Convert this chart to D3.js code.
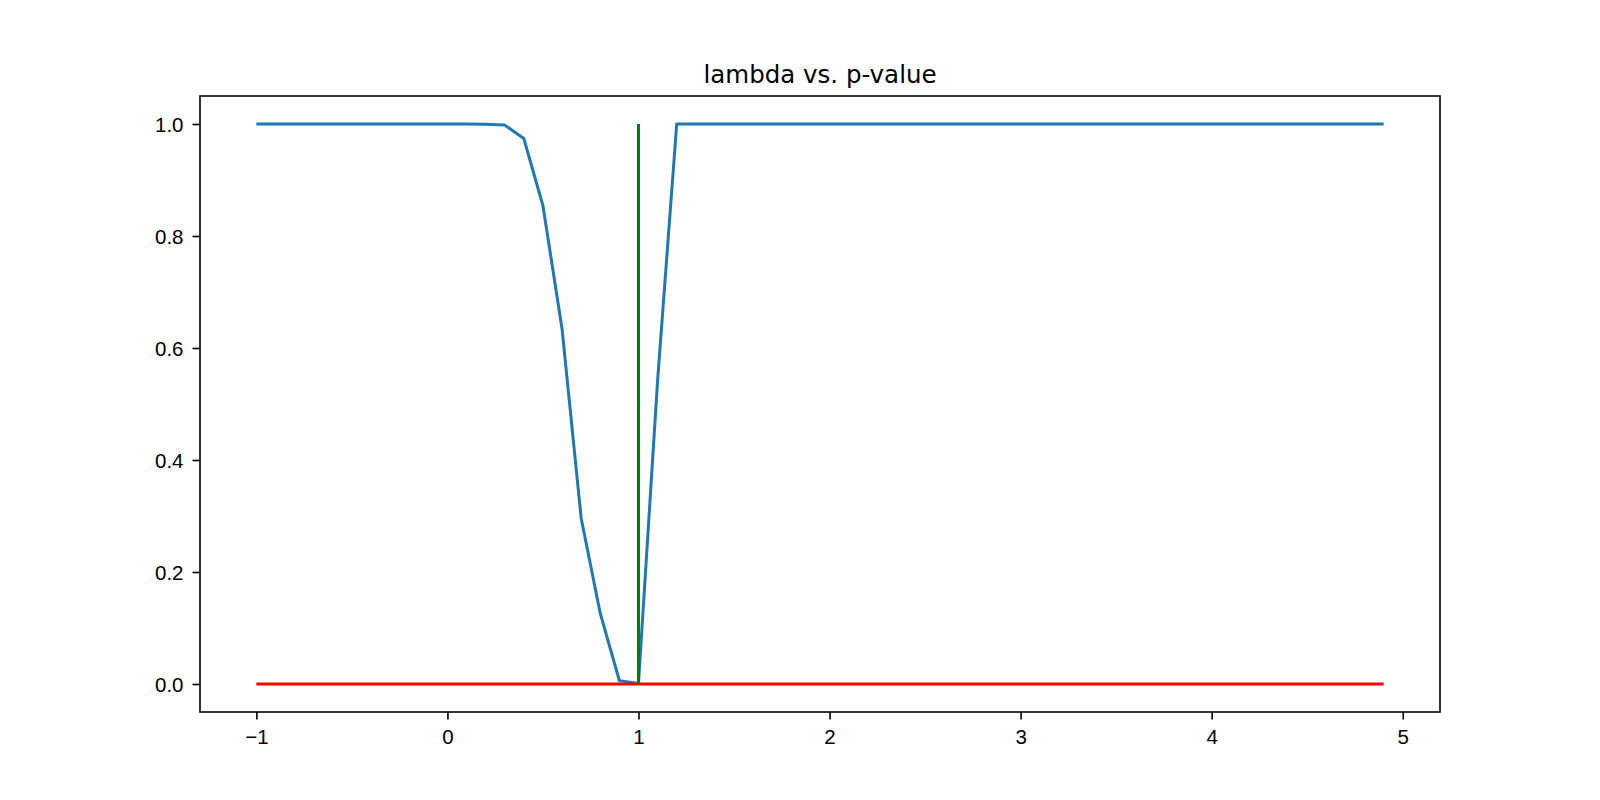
<!DOCTYPE html>
<html>
<head>
<meta charset="utf-8">
<script src="https://cdn.jsdelivr.net/npm/d3@7"></script>
<style>
  body { margin: 0; background: #fff; }
  svg { display: block; font-family: "DejaVu Sans", sans-serif; }
  .tick text { font-size: 20.5px; fill: #000; }
  .tick line { stroke: #000; stroke-width: 1.6px; }
  .domain { display: none; }
</style>
</head>
<body>
<svg id="chart" width="1600" height="800"></svg>
<script>
  // lambda grid and p-values
  const lambdas = [
    -1.0, -0.9, -0.8, -0.7, -0.6, -0.5, -0.4, -0.3, -0.2, -0.1,
    0.0, 0.1, 0.2, 0.3, 0.4, 0.5, 0.6, 0.7, 0.8, 0.9,
    1.0, 1.1, 1.2, 1.3, 1.4, 1.5, 1.6, 1.7, 1.8, 1.9,
    2.0, 2.1, 2.2, 2.3, 2.4, 2.5, 2.6, 2.7, 2.8, 2.9,
    3.0, 3.1, 3.2, 3.3, 3.4, 3.5, 3.6, 3.7, 3.8, 3.9,
    4.0, 4.1, 4.2, 4.3, 4.4, 4.5, 4.6, 4.7, 4.8, 4.9
  ];
  const pValues = [
    1.0, 1.0, 1.0, 1.0, 1.0, 1.0, 1.0, 1.0, 1.0, 1.0,
    1.0, 1.0, 0.9995, 0.998, 0.974, 0.854, 0.634, 0.296, 0.126, 0.006,
    0.001, 0.542, 1.0, 1.0, 1.0, 1.0, 1.0, 1.0, 1.0, 1.0,
    1.0, 1.0, 1.0, 1.0, 1.0, 1.0, 1.0, 1.0, 1.0, 1.0,
    1.0, 1.0, 1.0, 1.0, 1.0, 1.0, 1.0, 1.0, 1.0, 1.0,
    1.0, 1.0, 1.0, 1.0, 1.0, 1.0, 1.0, 1.0, 1.0, 1.0
  ];
  const alphaLine = [[-1.0, 0.0], [4.9, 0.0]];   // red threshold
  const trueLambda = [[1.0, 0.0], [1.0, 1.0]];   // green marker
  const xTicks = [-1, 0, 1, 2, 3, 4, 5];
  const yTicks = [0.0, 0.2, 0.4, 0.6, 0.8, 1.0];

  const box = {left: 200, right: 1440, top: 96, bottom: 712};
  const svg = d3.select('#chart');

  svg.append('rect').attr('width', 1600).attr('height', 800).attr('fill', '#fff');

  const x = d3.scaleLinear().domain([-1.295, 5.195]).range([box.left, box.right]);
  const y = d3.scaleLinear().domain([-0.05, 1.05]).range([box.bottom, box.top]);

  const line = d3.line()
    .x(d => x(d[0]))
    .y(d => y(d[1]));

  // axes
  const gx = svg.append('g')
    .attr('transform', `translate(0,${box.bottom})`)
    .call(d3.axisBottom(x).tickValues(xTicks).tickFormat(d3.format('d')).tickSize(7.5).tickPadding(7).tickSizeOuter(0));
  gx.selectAll('.tick text').attr('dy', null).attr('y', 32);

  const gy = svg.append('g')
    .attr('transform', `translate(${box.left},0)`)
    .call(d3.axisLeft(y).tickValues(yTicks).tickFormat(d3.format('.1f')).tickSize(7.5).tickPadding(9).tickSizeOuter(0));
  gy.selectAll('.tick text').attr('dy', '0.36em');

  // series
  svg.append('path').datum(d3.zip(lambdas, pValues))
    .attr('fill', 'none')
    .attr('stroke', '#1f77b4')
    .attr('stroke-width', 3)
    .attr('stroke-linejoin', 'round')
    .attr('d', line);

  svg.append('path').datum(alphaLine)
    .attr('fill', 'none')
    .attr('stroke', '#ff0000')
    .attr('stroke-width', 3)
    .attr('d', line);

  svg.append('path').datum(trueLambda)
    .attr('fill', 'none')
    .attr('stroke', '#008000')
    .attr('stroke-width', 3)
    .attr('d', line);

  // frame
  svg.append('rect')
    .attr('x', box.left).attr('y', box.top)
    .attr('width', box.right - box.left).attr('height', box.bottom - box.top)
    .attr('fill', 'none').attr('stroke', '#000').attr('stroke-width', 1.6);

  svg.append('text')
    .attr('x', (box.left + box.right) / 2)
    .attr('y', 83)
    .attr('text-anchor', 'middle')
    .attr('font-size', 24.5)
    .text('lambda vs. p-value');
</script>
</body>
</html>
